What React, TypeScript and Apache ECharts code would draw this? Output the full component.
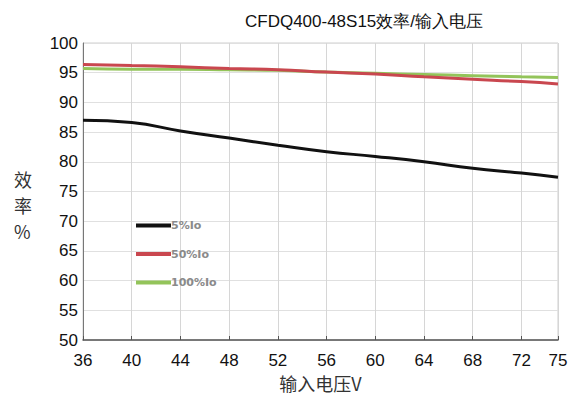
import React, { useEffect, useRef } from "react";
import * as echarts from "echarts";

// Input voltage (V) sample points
const voltage = [36, 40, 44, 48, 52, 56, 60, 64, 68, 72, 75];
// Efficiency (%) at each load level
const eff5 = [87.0, 86.6, 85.2, 84.0, 82.8, 81.7, 80.9, 80.0, 78.9, 78.1, 77.4];
const eff50 = [96.4, 96.2, 96.0, 95.7, 95.5, 95.1, 94.8, 94.3, 93.9, 93.5, 93.1];
const eff100 = [95.7, 95.6, 95.6, 95.5, 95.4, 95.1, 94.9, 94.7, 94.5, 94.3, 94.2];
const seriesNames = ["5%Io", "50%Io", "100%Io"];
const seriesColors = ["#111111", "#c9474f", "#93c45a"];

const FONT = "Liberation Sans, Arial, sans-serif";
const CJK = "Noto Sans CJK SC, sans-serif";

export default function App() {
  const ref = useRef<HTMLDivElement>(null);
  useEffect(() => {
    if (!ref.current) return;
    const chart = echarts.init(ref.current, null, { renderer: "svg" });
    const toPairs = (vals: number[]) => voltage.map((v, i) => [v, vals[i]]);
    const allData = [eff5, eff50, eff100];
    chart.setOption({
      animation: false,
      backgroundColor: "#ffffff",
      title: {
        text: "CFDQ400-48S15效率/输入电压",
        left: 359,
        top: 8,
        textAlign: "center",
        textStyle: { fontSize: 17, fontWeight: "normal", color: "#111", fontFamily: FONT },
      },
      legend: {
        orient: "vertical",
        left: 131,
        top: 215,
        itemWidth: 35,
        itemHeight: 4,
        itemGap: 17.5,
        icon: "rect",
        data: seriesNames,
        textStyle: { fontSize: 11, fontWeight: "bold", color: "#8a8a8a", fontFamily: "DejaVu Sans, sans-serif", padding: [0, 0, 0, -5] },
      },
      grid: { left: 83, right: 24, top: 43, bottom: 72, show: true, borderColor: "#cfcfcf", borderWidth: 1 },
      xAxis: {
        type: "value",
        min: 36,
        max: 75,
        interval: 4,
        name: "输入电压V",
        nameLocation: "middle",
        nameGap: 30,
        nameTextStyle: { fontSize: 18, color: "#333", fontFamily: CJK },
        axisLine: { lineStyle: { color: "#555", width: 1.5 } },
        axisTick: { inside: true, length: 4, lineStyle: { color: "#555" } },
        axisLabel: { fontSize: 17, color: "#111", margin: 12, fontFamily: FONT, showMaxLabel: true },
        splitLine: { show: true, lineStyle: { color: "#d6d6d6" } },
      },
      yAxis: {
        type: "value",
        min: 50,
        max: 100,
        interval: 5,
        axisLine: { show: true, lineStyle: { color: "#777", width: 1 } },
        axisTick: { show: false },
        axisLabel: { fontSize: 17, color: "#111", margin: 5, fontFamily: FONT },
        splitLine: { show: true, lineStyle: { color: "#e0e0e0" } },
      },
      graphic: [
        {
          type: "text",
          left: 14,
          top: 166,
          style: {
            text: "效\n率\n%",
            fontSize: 18,
            lineHeight: 26,
            fill: "#333",
            fontFamily: CJK,
            align: "center",
          },
        },
      ],
      series: seriesNames.map((name, i) => ({
        name,
        type: "line",
        smooth: true,
        showSymbol: false,
        data: toPairs(allData[i]),
        lineStyle: { color: seriesColors[i], width: 3 },
        itemStyle: { color: seriesColors[i] },
        z: 3 - i,
      })),
    });
    return () => chart.dispose();
  }, []);
  return (
    <div
      ref={ref}
      style={{ position: "absolute", left: 0, top: 0, width: 582, height: 412 }}
    />
  );
}
